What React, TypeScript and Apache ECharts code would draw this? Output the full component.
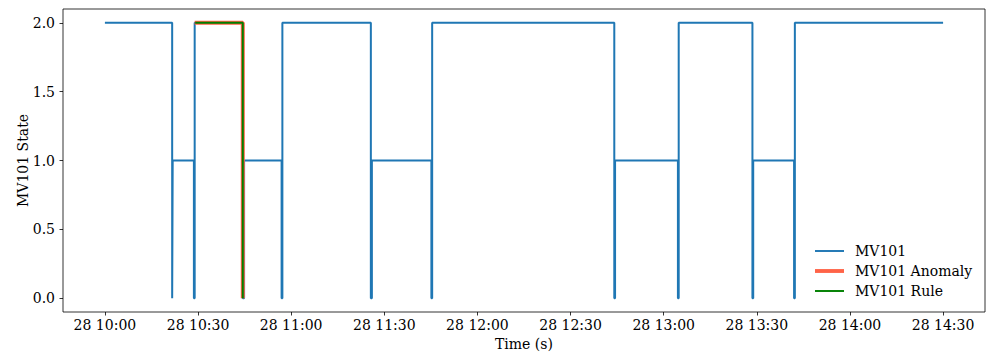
import React, { useEffect, useRef } from "react";
import * as echarts from "echarts";

// Day of the log; only the day-of-month is shown on the axis.
const DAY = [2015, 11, 28];

// MV101 valve state: each entry holds until the next change time.
const mvTimes = [
  "10:00:00", "10:21:40", "10:21:50", "10:28:40", "10:28:55",
  "10:44:25", "10:44:50", "10:56:55", "10:57:10", "11:25:40",
  "11:26:00", "11:45:10", "11:45:25", "12:44:05", "12:44:20",
  "13:04:35", "13:04:50", "13:28:35", "13:28:50", "13:42:00",
  "13:42:15", "14:30:00",
];
const mvStates = [
  2, 0, 1, 0, 2,
  0, 1, 0, 2, 0,
  1, 0, 2, 0, 1,
  0, 2, 0, 1, 0,
  2, 2,
];

// Samples flagged as anomalous.
const anomalyTimes = ["10:28:55", "10:44:25"];
const anomalyStates = [2, 0];

// Samples covered by the rule.
const ruleTimes = ["10:29:05", "10:44:25"];
const ruleStates = [2, 0];

// Axis extents and tick labels.
const xRange = ["09:46:30", "14:43:30"];
const xTicks = [
  "10:00:00", "10:30:00", "11:00:00", "11:30:00", "12:00:00",
  "12:30:00", "13:00:00", "13:30:00", "14:00:00", "14:30:00",
];
const yTicks = [0, 0.5, 1, 1.5, 2];
const yRange = [-0.1, 2.1];

const FONT = "DejaVu Serif";
const FS = 14;

function toTs(hms: string): number {
  const [h, m, s] = hms.split(":").map(Number);
  return new Date(DAY[0], DAY[1], DAY[2], h, m, s).getTime();
}

function pairs(times: string[], states: number[]): [number, number][] {
  return times.map((t, i) => [toTs(t), states[i]]);
}

function pad(n: number): string {
  return n < 10 ? "0" + n : String(n);
}

function fmtTime(v: number): string {
  const d = new Date(v);
  return `${d.getDate()} ${pad(d.getHours())}:${pad(d.getMinutes())}`;
}

export default function App() {
  const ref = useRef<HTMLDivElement>(null);

  useEffect(() => {
    if (!ref.current) return;
    const chart = echarts.init(ref.current, undefined, { renderer: "svg" });
    const tickVals = xTicks.map(toTs);

    chart.setOption({
      animation: false,
      backgroundColor: "#ffffff",
      textStyle: { fontFamily: FONT },
      grid: {
        left: 63,
        top: 9,
        width: 922,
        height: 303,
        show: true,
        borderColor: "#000",
        borderWidth: 0.8,
        backgroundColor: "transparent",
      },
      xAxis: {
        type: "value",
        min: toTs(xRange[0]),
        max: toTs(xRange[1]),
        name: "Time (s)",
        nameLocation: "middle",
        nameGap: 24,
        nameTextStyle: { fontFamily: FONT, fontSize: FS, color: "#000" },
        axisLine: { show: false, onZero: false },
        splitLine: { show: false },
        axisTick: {
          show: true,
          length: 3.5,
          lineStyle: { color: "#000", width: 0.8 },
          customValues: tickVals,
        },
        axisLabel: {
          fontFamily: FONT,
          fontSize: FS,
          color: "#000",
          margin: 6,
          customValues: tickVals,
          formatter: (v: number) => fmtTime(v),
        },
      },
      yAxis: {
        type: "value",
        min: yRange[0],
        max: yRange[1],
        name: "MV101 State",
        nameLocation: "middle",
        nameGap: 33,
        nameMoveOverlap: false,
        nameTextStyle: { fontFamily: FONT, fontSize: FS, color: "#000" },
        axisLine: { show: false, onZero: false },
        splitLine: { show: false },
        axisTick: {
          show: true,
          length: 3.5,
          lineStyle: { color: "#000", width: 0.8 },
          customValues: yTicks,
        },
        axisLabel: {
          fontFamily: FONT,
          fontSize: FS,
          color: "#000",
          margin: 8,
          customValues: yTicks,
          formatter: (v: number) => v.toFixed(1),
        },
      },
      legend: {
        orient: "vertical",
        left: 810,
        top: 238,
        itemWidth: 29,
        itemHeight: 4,
        itemGap: 4,
        textStyle: {
          fontFamily: FONT,
          fontSize: FS,
          color: "#000",
          lineHeight: 16,
          padding: [0, 0, 0, 6],
        },
        data: [
          { name: "MV101", icon: "path://M0 0H30V2H0Z" },
          { name: "MV101 Anomaly", icon: "path://M0 0H30V4H0Z" },
          { name: "MV101 Rule", icon: "path://M0 0H30V2H0Z" },
        ],
      },
      series: [
        {
          name: "MV101",
          type: "line",
          step: "end",
          showSymbol: false,
          color: "#1f77b4",
          lineStyle: { color: "#1f77b4", width: 2 },
          data: pairs(mvTimes, mvStates),
          z: 2,
        },
        {
          name: "MV101 Anomaly",
          type: "line",
          step: "end",
          showSymbol: false,
          color: "#ff6347",
          lineStyle: { color: "#ff6347", width: 4 },
          data: pairs(anomalyTimes, anomalyStates),
          z: 3,
        },
        {
          name: "MV101 Rule",
          type: "line",
          step: "end",
          showSymbol: false,
          color: "#008000",
          lineStyle: { color: "#008000", width: 2 },
          data: pairs(ruleTimes, ruleStates),
          z: 4,
        },
      ],
    });

    return () => chart.dispose();
  }, []);

  return (
    <div
      ref={ref}
      style={{ position: "fixed", left: 0, top: 0, width: 986, height: 356 }}
    />
  );
}
